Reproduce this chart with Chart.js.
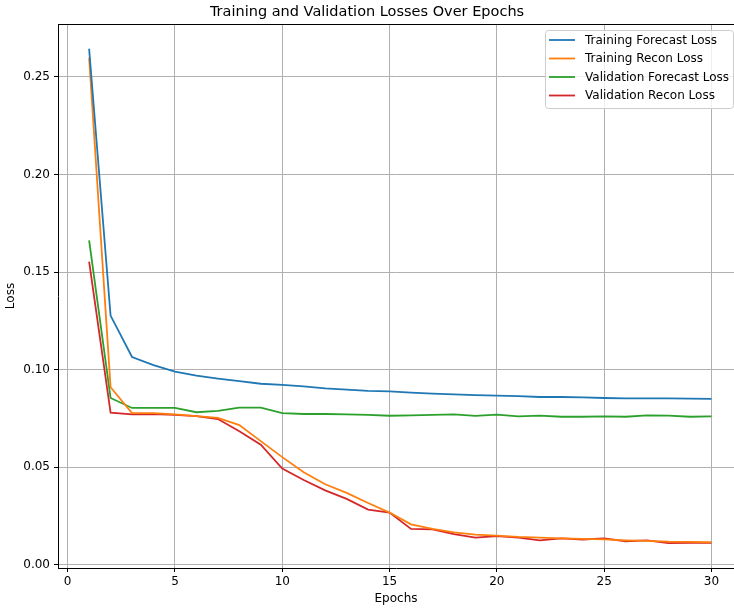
<!DOCTYPE html>
<html>
<head>
<meta charset="utf-8">
<script src="https://cdn.jsdelivr.net/npm/chart.js@4.4.1/dist/chart.umd.min.js"></script>
<style>
    body { margin: 0; background: #fff; }
    canvas { display: block; }
</style>
</head>
<body>
<canvas id="myChart" width="734" height="609"></canvas>
<script>
const epochs = [1, 2, 3, 4, 5, 6, 7, 8, 9, 10, 11, 12, 13, 14, 15, 16, 17, 18, 19, 20, 21, 22, 23, 24, 25, 26, 27, 28, 29, 30];

const trainForecast = [0.2644, 0.1277, 0.1065, 0.1023, 0.0990, 0.0969, 0.0954, 0.0941, 0.0928, 0.0922,
    0.0914, 0.0904, 0.0898, 0.0891, 0.0889, 0.0882, 0.0877, 0.0874, 0.0870, 0.0867,
    0.0865, 0.0860, 0.0860, 0.0858, 0.0855, 0.0853, 0.0853, 0.0853, 0.0852, 0.0850];

const trainRecon = [0.2599, 0.0910, 0.0778, 0.0777, 0.0771, 0.0762, 0.0753, 0.0716, 0.0634, 0.0552,
    0.0475, 0.0413, 0.0369, 0.0317, 0.0268, 0.0208, 0.0184, 0.0167, 0.0155, 0.0150,
    0.0143, 0.0140, 0.0136, 0.0133, 0.0131, 0.0126, 0.0123, 0.0119, 0.0118, 0.0116];

const valForecast = [0.1663, 0.0855, 0.0804, 0.0804, 0.0804, 0.0782, 0.0789, 0.0806, 0.0806, 0.0777,
    0.0773, 0.0773, 0.0771, 0.0768, 0.0764, 0.0766, 0.0768, 0.0771, 0.0763, 0.0770,
    0.0761, 0.0765, 0.0759, 0.0759, 0.0761, 0.0759, 0.0766, 0.0765, 0.0759, 0.0761];

const valRecon = [0.1553, 0.0780, 0.0771, 0.0773, 0.0769, 0.0762, 0.0747, 0.0685, 0.0616, 0.0493,
    0.0435, 0.0382, 0.0338, 0.0283, 0.0268, 0.0184, 0.0182, 0.0157, 0.0140, 0.0147,
    0.0140, 0.0126, 0.0136, 0.0130, 0.0136, 0.0121, 0.0126, 0.0111, 0.0113, 0.0113];

const seriesNames = ["Training Forecast Loss", "Training Recon Loss", "Validation Forecast Loss", "Validation Recon Loss"];
const seriesColors = ["#1f77b4", "#ff7f0e", "#2ca02c", "#d62728"];

const xTicks = [0, 5, 10, 15, 20, 25, 30];
const yTicks = [0, 0.05, 0.10, 0.15, 0.20, 0.25];

const font = "'DejaVu Sans', sans-serif";

const toPoints = values => values.map((v, i) => ({ x: epochs[i], y: v }));

const data = {
    datasets: [trainForecast, trainRecon, valForecast, valRecon].map((values, i) => ({
        label: seriesNames[i],
        data: toPoints(values),
        borderColor: seriesColors[i],
        backgroundColor: seriesColors[i],
        borderWidth: 1.8,
        pointRadius: 0,
        tension: 0
    }))
};

// top spine + matplotlib-like legend in the upper right corner
const framePlugin = {
    id: "frame",
    afterDraw: chart => {
        let ctx = chart.ctx;
        let area = chart.chartArea;

        ctx.save();
        ctx.strokeStyle = "#000";
        ctx.lineWidth = 1;
        ctx.beginPath();
        ctx.moveTo(area.left, area.top + 0.5);
        ctx.lineTo(area.right, area.top + 0.5);
        ctx.stroke();

        let boxLeft = 545.5, boxTop = 30.5, boxW = 188, boxH = 78;
        ctx.fillStyle = "rgba(255, 255, 255, 0.8)";
        ctx.strokeStyle = "#cccccc";
        ctx.beginPath();
        ctx.roundRect(boxLeft, boxTop, boxW, boxH, 3);
        ctx.fill();
        ctx.stroke();

        ctx.font = "12px " + font;
        ctx.textBaseline = "middle";
        ctx.textAlign = "left";
        chart.data.datasets.forEach((ds, i) => {
            let y = 40 + i * 18.5;
            ctx.strokeStyle = ds.borderColor;
            ctx.lineWidth = 1.8;
            ctx.beginPath();
            ctx.moveTo(549, y);
            ctx.lineTo(575, y);
            ctx.stroke();
            ctx.fillStyle = "#000";
            ctx.fillText(ds.label, 585, y + 0.5);
        });
        ctx.restore();
    }
};

const config = {
    type: "line",
    data: data,
    options: {
        responsive: false,
        animation: false,
        devicePixelRatio: 1,
        layout: { padding: { left: 0, right: 0, top: 0, bottom: 0 } },
        plugins: {
            legend: { display: false },
            tooltip: { enabled: false },
            title: {
                display: true,
                text: "Training and Validation Losses Over Epochs",
                color: "#000",
                font: { family: font, size: 14.5, weight: "normal", lineHeight: 1.2 },
                padding: { top: 3.5, bottom: 3.1 }
            }
        },
        scales: {
            x: {
                type: "linear",
                min: -0.45,
                max: 31.05,
                afterBuildTicks: scale => { scale.ticks = xTicks.map(v => ({ value: v })); },
                afterFit: scale => { scale.height = 41; },
                grid: { color: "#b0b0b0", lineWidth: 1, tickColor: "#000", tickLength: 4 },
                border: { display: true, color: "#000", width: 1 },
                ticks: {
                    color: "#000",
                    padding: 3,
                    maxRotation: 0,
                    font: { family: font, size: 12 },
                    callback: v => String(v)
                },
                title: {
                    display: true,
                    text: "Epochs",
                    color: "#000",
                    font: { family: font, size: 12 },
                    padding: { top: 3, bottom: 3 }
                }
            },
            y: {
                min: -0.0016,
                max: 0.2771,
                afterBuildTicks: scale => { scale.ticks = yTicks.map(v => ({ value: v })); },
                afterFit: scale => { scale.width = 58; },
                grid: { color: "#b0b0b0", lineWidth: 1, tickColor: "#000", tickLength: 4 },
                border: { display: true, color: "#000", width: 1 },
                ticks: {
                    color: "#000",
                    padding: 4,
                    font: { family: font, size: 12 },
                    callback: v => v.toFixed(2)
                },
                title: {
                    display: true,
                    text: "Loss",
                    color: "#000",
                    font: { family: font, size: 12 },
                    padding: { top: 4, bottom: 0 }
                }
            }
        }
    },
    plugins: [framePlugin]
};

var myChart = new Chart(document.getElementById("myChart"), config);
</script>
</body>
</html>
